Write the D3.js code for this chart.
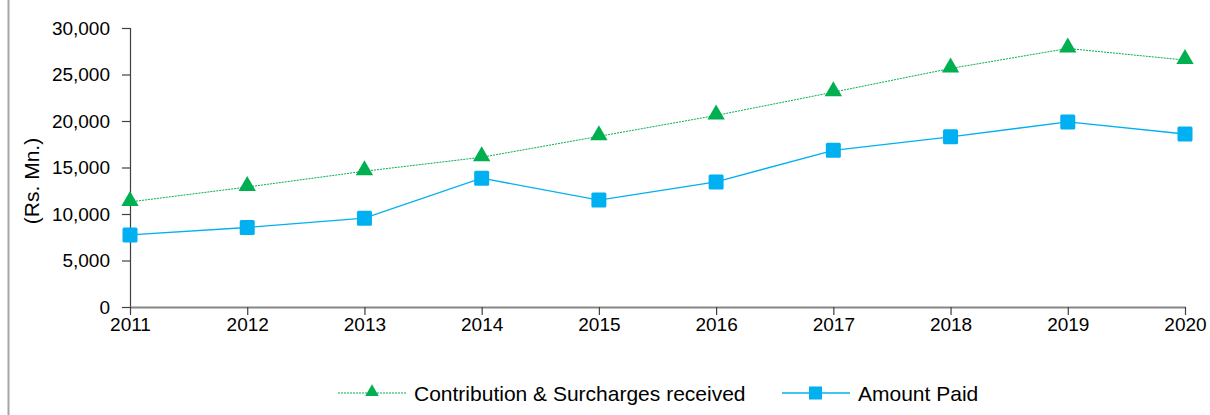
<!DOCTYPE html>
<html>
<head>
<meta charset="UTF-8">
<style>
  body { margin: 0; background: #fff; }
  svg { display: block; font-family: "Liberation Sans", Arial, sans-serif; }
</style>
</head>
<body>
<svg></svg>
<script src="https://d3js.org/d3.v7.min.js"></script>
<script>
// data
let years = [2011, 2012, 2013, 2014, 2015, 2016, 2017, 2018, 2019, 2020];
let contribution = [11300, 12900, 14600, 16100, 18350, 20600, 23100, 25650, 27800, 26550];
let amountPaid = [7750, 8550, 9550, 13850, 11500, 13450, 16850, 18300, 19900, 18600];
let yTicks = [0, 5000, 10000, 15000, 20000, 25000, 30000];

let width = 1210, height = 415;
let svg = d3.select("svg").attr("width", width).attr("height", height);

// outer frame edge on the left
svg.append("line")
  .attr("x1", 8.5).attr("x2", 8.5).attr("y1", 0).attr("y2", height)
  .attr("stroke", "#a6a6a6").attr("stroke-width", 2);

let x = d3.scalePoint().domain(years).range([130, 1185]);
let y = d3.scaleLinear().domain([0, 30000]).range([307, 28]);

// y axis
let yAxis = svg.append("g")
  .attr("transform", "translate(130,0)")
  .call(d3.axisLeft(y).tickValues(yTicks).tickSize(8).tickPadding(12).tickFormat(d3.format(",")));
yAxis.selectAll("path, line").attr("stroke", "#404040").attr("stroke-width", 1.2);
yAxis.selectAll("text").attr("font-size", 19).attr("fill", "#000").attr("font-family", "Liberation Sans, Arial, sans-serif");

// x axis
let xAxis = svg.append("g")
  .attr("transform", "translate(0,307)")
  .call(d3.axisBottom(x).tickSize(8).tickPadding(3).tickSizeOuter(0));
xAxis.select("path").attr("stroke", "#868686").attr("stroke-width", 2);
xAxis.selectAll("line").attr("stroke", "#404040").attr("stroke-width", 1.2);
xAxis.selectAll("text").attr("font-size", 19).attr("fill", "#000").attr("font-family", "Liberation Sans, Arial, sans-serif");

// axis title
svg.append("text")
  .attr("transform", "translate(39,181) rotate(-90)")
  .attr("text-anchor", "middle")
  .attr("font-size", 21)
  .text("(Rs. Mn.)");

let line = d3.line().x((d, i) => x(years[i])).y(d => y(d));

// contribution series
svg.append("path")
  .datum(contribution)
  .attr("d", line)
  .attr("fill", "none")
  .attr("stroke", "#00b050")
  .attr("stroke-width", 1)
  .attr("stroke-dasharray", "2,1");

let tri = d3.symbol().type(d3.symbolTriangle).size(130);
svg.append("g").selectAll("path")
  .data(contribution)
  .enter()
  .append("path")
  .attr("d", tri)
  .attr("transform", (d, i) => `translate(${x(years[i])},${y(d) - 1})`)
  .attr("fill", "#00b050");

// amount paid series
svg.append("path")
  .datum(amountPaid)
  .attr("d", line)
  .attr("fill", "none")
  .attr("stroke", "#00b0f0")
  .attr("stroke-width", 1.3);

svg.append("g").selectAll("rect")
  .data(amountPaid)
  .enter()
  .append("rect")
  .attr("x", (d, i) => x(years[i]) - 7.5)
  .attr("y", d => y(d) - 7.5)
  .attr("width", 15).attr("height", 15)
  .attr("rx", 1.5)
  .attr("fill", "#00b0f0");

// legend
let legend = svg.append("g").attr("transform", "translate(0,393)");
legend.append("line")
  .attr("x1", 338).attr("x2", 406).attr("y1", 0).attr("y2", 0)
  .attr("stroke", "#00b050").attr("stroke-width", 1).attr("stroke-dasharray", "2,1");
legend.append("path")
  .attr("d", d3.symbol().type(d3.symbolTriangle).size(80))
  .attr("transform", "translate(372,-1)")
  .attr("fill", "#00b050");
legend.append("text")
  .attr("x", 414).attr("y", 8)
  .attr("font-size", 21)
  .text("Contribution & Surcharges received");

legend.append("line")
  .attr("x1", 782).attr("x2", 850).attr("y1", 0).attr("y2", 0)
  .attr("stroke", "#00b0f0").attr("stroke-width", 1.3);
legend.append("rect")
  .attr("x", 809).attr("y", -6.5).attr("width", 13).attr("height", 13)
  .attr("fill", "#00b0f0");
legend.append("text")
  .attr("x", 858).attr("y", 8)
  .attr("font-size", 21)
  .text("Amount Paid");
</script>
</body>
</html>
